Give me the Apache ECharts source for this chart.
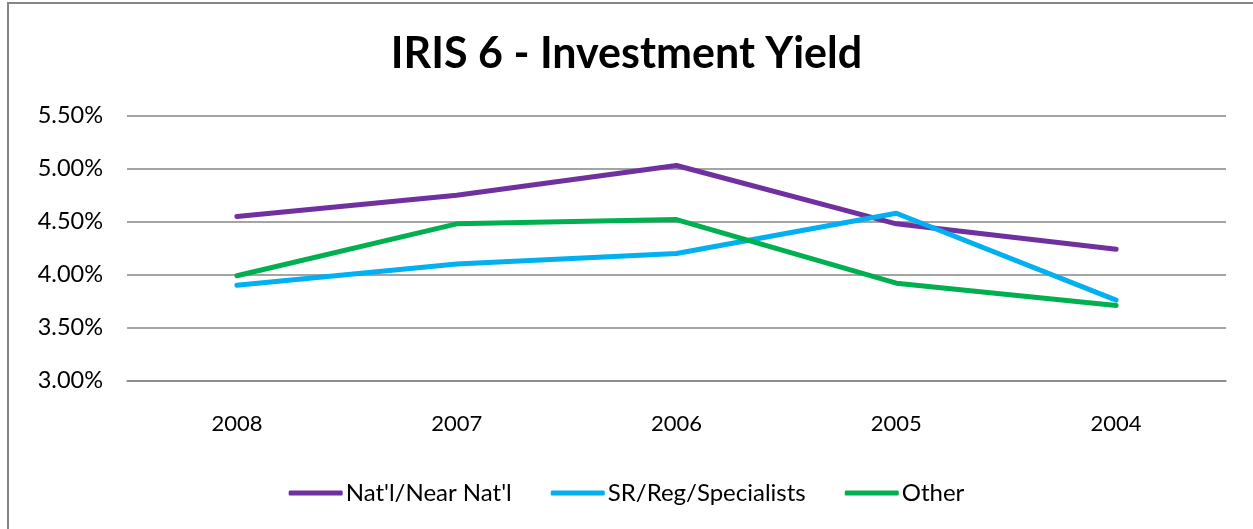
<!DOCTYPE html>
<html><head><meta charset="utf-8">
<script src="https://cdn.jsdelivr.net/npm/echarts@6/dist/echarts.min.js"></script>
<style>html,body{margin:0;padding:0;background:#fff}#c{width:1253px;height:529px}</style>
</head><body><div id="c"></div>
<script>
const categories = ['2008','2007','2006','2005','2004'];
const natl = [4.55, 4.75, 5.03, 4.48, 4.24];
const srReg = [3.90, 4.10, 4.20, 4.58, 3.76];
const other = [3.99, 4.48, 4.52, 3.92, 3.71];
const seriesNames = ["Nat'l/Near Nat'l", 'SR/Reg/Specialists', 'Other'];
const titleText = 'IRIS 6 - Investment Yield';

const font = 'Lato, "Open Sans", sans-serif';
const chart = echarts.init(document.getElementById('c'));
const colors = ['#7030A0', '#00B0F0', '#00B050'];
const mk = (name, data, i) => ({
  name, type: 'line', data, symbol: 'none', smooth: false,
  lineStyle: { width: 5, color: colors[i], cap: 'round', join: 'round' },
  itemStyle: { color: colors[i] }
});
chart.setOption({
  animation: false,
  graphic: [{ type: 'rect', shape: { x: 8, y: 3, width: 1400, height: 700 },
    style: { fill: 'none', stroke: '#868686', lineWidth: 2 }, silent: true }],
  title: { text: titleText, left: 'center', top: 28,
    textStyle: { fontFamily: font, fontWeight: 'bold', fontSize: 43, color: '#000' } },
  grid: { left: 127, right: 27, top: 115.7, bottom: 148.3, containLabel: false },
  legend: { top: 476, left: 'center', itemWidth: 54, itemHeight: 5, itemGap: 39,
    icon: 'roundRect', textStyle: { fontFamily: font, fontSize: 24, color: '#000', padding: [0,0,0,-2] },
    data: seriesNames },
  xAxis: { type: 'category', data: categories, boundaryGap: true,
    axisLine: { lineStyle: { color: '#868686', width: 1.5 } },
    axisTick: { show: false },
    axisLabel: { fontFamily: font, fontSize: 22, color: '#000', margin: 32 } },
  yAxis: { type: 'value', min: 3, max: 5.5, interval: 0.5,
    axisLine: { show: false }, axisTick: { show: false },
    axisLabel: { fontFamily: font, fontSize: 23.5, color: '#000', margin: 24,
      formatter: v => v.toFixed(2) + '%' },
    splitLine: { lineStyle: { color: '#868686', width: 1.5 } } },
  series: [mk(seriesNames[0], natl, 0), mk(seriesNames[1], srReg, 1), mk(seriesNames[2], other, 2)]
});
</script></body></html>
